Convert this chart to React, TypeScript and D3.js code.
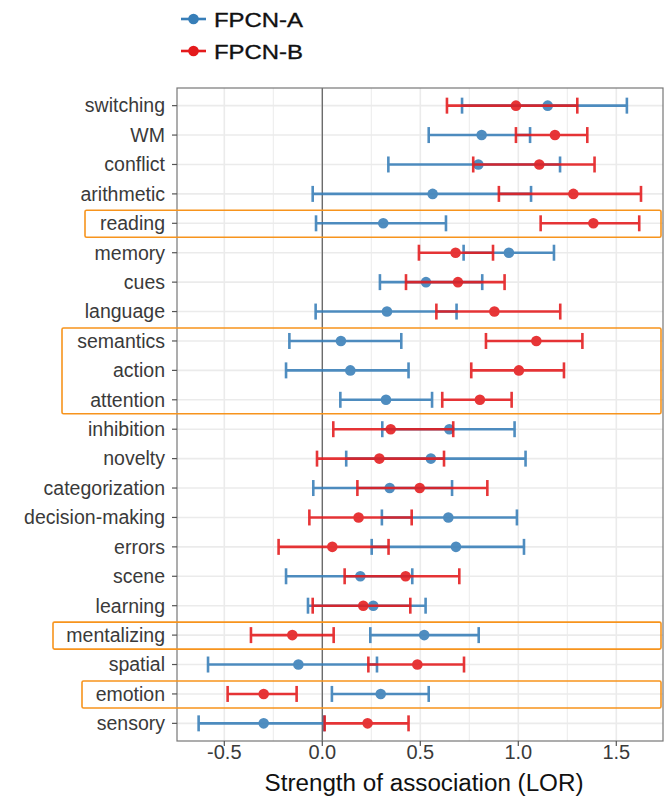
import React from "react";
import * as d3 from "d3";

const categories = ["switching","WM","conflict","arithmetic","reading","memory","cues","language","semantics","action","attention","inhibition","novelty","categorization","decision-making","errors","scene","learning","mentalizing","spatial","emotion","sensory"];

const aEst = [1.150,0.813,0.796,0.563,0.311,0.952,0.529,0.330,0.095,0.143,0.325,0.648,0.554,0.344,0.643,0.682,0.194,0.260,0.520,-0.122,0.298,-0.299];
const aLo  = [0.713,0.543,0.337,-0.049,-0.032,0.721,0.294,-0.034,-0.168,-0.185,0.092,0.306,0.122,-0.046,0.304,0.252,-0.185,-0.073,0.245,-0.583,0.049,-0.631];
const aHi  = [1.554,1.060,1.213,1.065,0.631,1.182,0.816,0.685,0.403,0.440,0.560,0.981,1.037,0.662,0.993,1.029,0.459,0.527,0.798,0.279,0.543,0.009];

const bEst = [0.988,1.187,1.107,1.281,1.383,0.680,0.692,0.878,1.092,1.003,0.804,0.349,0.291,0.497,0.185,0.051,0.425,0.209,-0.153,0.485,-0.299,0.231];
const bLo  = [0.636,0.988,0.770,0.901,1.114,0.493,0.427,0.582,0.835,0.760,0.612,0.056,-0.027,0.179,-0.066,-0.223,0.114,-0.049,-0.364,0.235,-0.483,0.012];
const bHi  = [1.301,1.352,1.389,1.626,1.617,0.871,0.930,1.214,1.327,1.233,0.966,0.668,0.621,0.842,0.456,0.338,0.699,0.449,0.058,0.723,-0.131,0.440];

const xTicks = [-0.5, 0, 0.5, 1.0, 1.5];
const xTickLabels = ["-0.5", "0.0", "0.5", "1.0", "1.5"];
const xGrid = [-0.5, -0.25, 0, 0.25, 0.5, 0.75, 1.0, 1.25, 1.5];

const seriesNames = ["FPCN-A", "FPCN-B"];
const seriesColors = ["#377EB8", "#E41A1C"];

const highlightGroups = [
  { first: "reading", last: "reading", left: 85 },
  { first: "semantics", last: "attention", left: 62 },
  { first: "mentalizing", last: "mentalizing", left: 53 },
  { first: "emotion", last: "emotion", left: 82 },
];

const W = 671, H = 801;
const PL = 177, PR = 663, PT = 88, PB = 741;

export default function App() {
  const x = d3.scaleLinear().domain([(PL - 322.3) / 196, (PR - 322.3) / 196]).range([PL, PR]);
  const y = d3.scalePoint<string>().domain(categories).range([PT, PB]).padding(0.6);
  const font = "'Liberation Sans', Arial, Helvetica, sans-serif";

  const series = [
    { est: aEst, lo: aLo, hi: aHi, color: seriesColors[0] },
    { est: bEst, lo: bLo, hi: bHi, color: seriesColors[1] },
  ];
  const cap = 8;

  return (
    <svg width={W} height={H} style={{ position: "absolute", left: 0, top: 0, background: "#fff" }} fontFamily={font}>
      <rect x={0} y={0} width={W} height={H} fill="#fff" />
      {/* grid */}
      {xGrid.map((v) => (
        <line key={"gx" + v} x1={x(v)} x2={x(v)} y1={PT} y2={PB}
          stroke="#ebebeb" strokeWidth={v * 2 === Math.round(v * 2) ? 1.6 : 1} />
      ))}
      {categories.map((c) => (
        <line key={"gy" + c} x1={PL} x2={PR} y1={y(c)} y2={y(c)} stroke="#ebebeb" strokeWidth={1.6} />
      ))}
      {/* zero line */}
      <line x1={x(0)} x2={x(0)} y1={PT} y2={PB} stroke="#666" strokeWidth={1.3} />
      {/* series */}
      {series.map((s, si) => (
        <g key={si} opacity={0.88}>
          {categories.map((c, i) => {
            const yy = y(c)!;
            return (
              <g key={c}>
                <line x1={x(s.lo[i])} x2={x(s.hi[i])} y1={yy} y2={yy} stroke={s.color} strokeWidth={2.6} />
                <line x1={x(s.lo[i])} x2={x(s.lo[i])} y1={yy - cap} y2={yy + cap} stroke={s.color} strokeWidth={2.6} />
                <line x1={x(s.hi[i])} x2={x(s.hi[i])} y1={yy - cap} y2={yy + cap} stroke={s.color} strokeWidth={2.6} />
                <circle cx={x(s.est[i])} cy={yy} r={5.3} fill={s.color} />
              </g>
            );
          })}
        </g>
      ))}
      {/* panel border */}
      <rect x={PL} y={PT} width={PR - PL} height={PB - PT} fill="none" stroke="#777" strokeWidth={1.2} />
      {/* y axis */}
      {categories.map((c) => (
        <g key={"yl" + c}>
          <line x1={PL - 5} x2={PL} y1={y(c)} y2={y(c)} stroke="#555" strokeWidth={1.2} />
          <text x={PL - 12} y={y(c)!} dy="0.35em" textAnchor="end" fontSize={19.5} fill="#3a3a3a">{c}</text>
        </g>
      ))}
      {/* x axis */}
      {xTicks.map((v, i) => (
        <g key={"xt" + v}>
          <line x1={x(v)} x2={x(v)} y1={PB} y2={PB + 5} stroke="#555" strokeWidth={1.2} />
          <text x={x(v)} y={PB + 18} textAnchor="middle" fontSize={20} fill="#3a3a3a">{xTickLabels[i]}</text>
        </g>
      ))}
      <text x={(PL + PR) / 2 + 4} y={791} textAnchor="middle" fontSize={23} fill="#111" textLength={319} lengthAdjust="spacingAndGlyphs">Strength of association (LOR)</text>
      {/* highlight boxes */}
      {highlightGroups.map((g) => {
        const t = y(g.first)! - 13;
        const b = y(g.last)! + 14;
        return <rect key={g.first} x={g.left} y={t} width={661 - g.left} height={b - t} rx={1.5}
          fill="none" stroke="#F7941D" strokeWidth={1.6} />;
      })}
      {/* legend */}
      {seriesNames.map((n, i) => {
        const ly = 19 + i * 32;
        return (
          <g key={n}>
            <line x1={181} x2={206} y1={ly} y2={ly} stroke={seriesColors[i]} strokeWidth={2.6} />
            <circle cx={193.5} cy={ly} r={5.3} fill={seriesColors[i]} />
            <text x={214} y={ly} dy="0.36em" fontSize={21} fill="#111" stroke="#111" strokeWidth={0.35} textLength={89} lengthAdjust="spacingAndGlyphs">{n}</text>
          </g>
        );
      })}
    </svg>
  );
}
